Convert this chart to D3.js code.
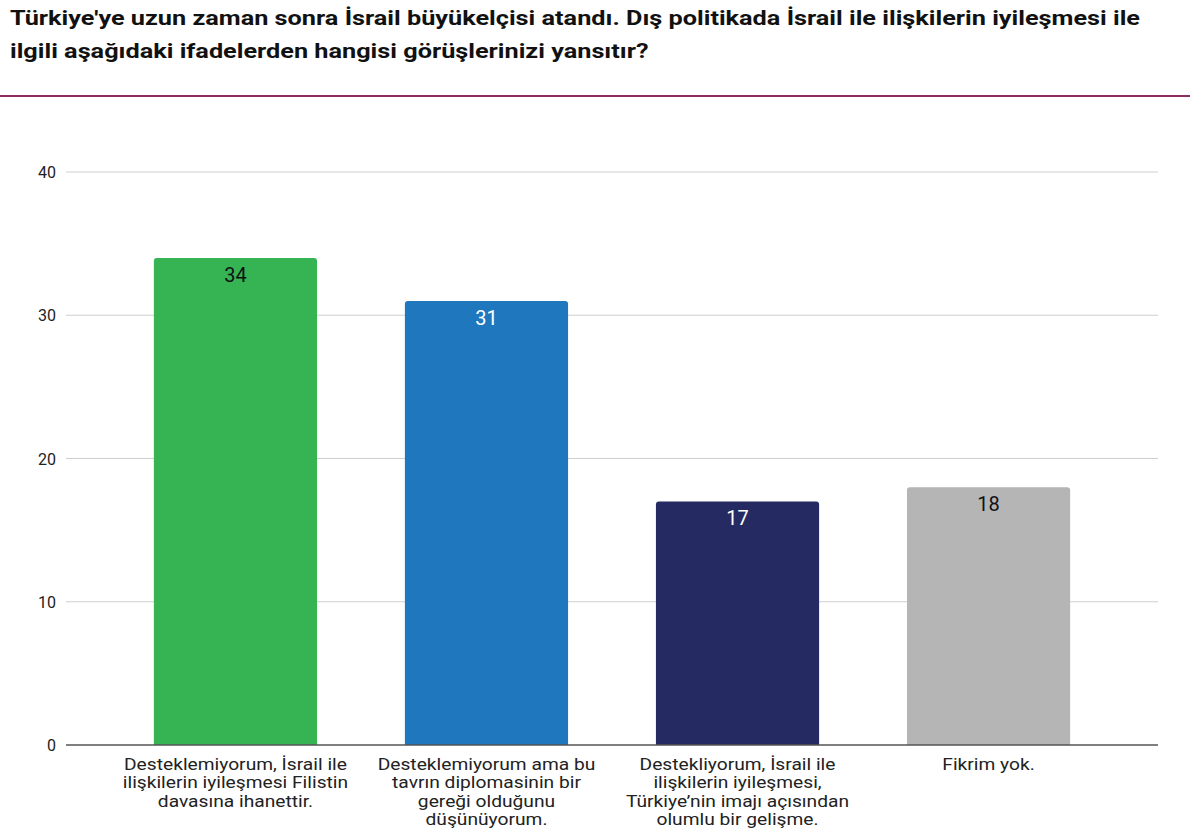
<!DOCTYPE html>
<html>
<head>
<meta charset="utf-8">
<script src="https://cdn.jsdelivr.net/npm/d3@7"></script>
<style>
  body { margin: 0; background: #fff; }
  text { font-family: Roboto, "Noto Sans", sans-serif; }
</style>
</head>
<body>
<div id="Container"></div>
<script>
var baslik = ["Türkiye'ye uzun zaman sonra İsrail büyükelçisi atandı. Dış politikada İsrail ile ilişkilerin iyileşmesi ile",
              "ilgili aşağıdaki ifadelerden hangisi görüşlerinizi yansıtır?"];
var kategori = ["Desteklemiyorum, İsrail ile ilişkilerin iyileşmesi Filistin davasına ihanettir.",
                "Desteklemiyorum ama bu tavrın diplomasinin bir gereği olduğunu düşünüyorum.",
                "Destekliyorum, İsrail ile ilişkilerin iyileşmesi, Türkiye’nin imajı açısından olumlu bir gelişme.",
                "Fikrim yok."];
var nilai = [34, 31, 17, 18];
var tiks = [0, 10, 20, 30, 40];

var warna = d3.scaleOrdinal().domain(kategori)
    .range(["#36b454", "#1f77bd", "#262a62", "#b5b5b5"]);
var warnaTeks = d3.scaleOrdinal().domain(kategori)
    .range(["#111", "#fff", "#fff", "#111"]);

var W = 1200, H = 834;
var canvas = d3.select("#Container").append("svg")
    .attr("width", W).attr("height", H);

// judul
canvas.selectAll("text.judul").data(baslik).enter()
    .append("text")
    .attr("class", "judul")
    .attr("x", 10)
    .attr("y", function (d, i) { return 25 + i * 33; })
    .attr("font-family", "'DejaVu Sans', sans-serif")
    .attr("font-weight", "bold")
    .attr("font-size", 21)
    .attr("fill", "#111")
    .text(function (d) { return d; });
// paksa lebar baris pertama
var t0 = canvas.select("text.judul").node();
var skala = 1130 / t0.getComputedTextLength();
canvas.selectAll("text.judul").attr("textLength", function () { return this.getComputedTextLength() * skala; })
    .attr("lengthAdjust", "spacingAndGlyphs");

canvas.append("line")
    .attr("x1", 0).attr("x2", 1190)
    .attr("y1", 96).attr("y2", 96)
    .attr("stroke", "#8c2e5e").attr("stroke-width", 2);

var x = d3.scaleBand().domain(kategori).range([66, 1158]).padding(0.35);
var y = d3.scaleLinear().domain([0, 40]).range([745, 172]);

// grid
canvas.selectAll("line.grid").data(tiks.slice(1)).enter()
    .append("line")
    .attr("class", "grid")
    .attr("x1", 66).attr("x2", 1158)
    .attr("y1", function (d) { return y(d); })
    .attr("y2", function (d) { return y(d); })
    .attr("stroke", "#cfcfcf").attr("stroke-width", 1);

canvas.selectAll("text.ytick").data(tiks).enter()
    .append("text")
    .attr("class", "ytick")
    .attr("x", 56)
    .attr("y", function (d) { return y(d) + 6; })
    .attr("text-anchor", "end")
    .attr("font-size", 16)
    .attr("fill", "#222")
    .text(function (d) { return d; });

// bar
canvas.selectAll("path.bar").data(nilai).enter()
    .append("path")
    .attr("class", "bar")
    .attr("d", function (d, i) {
        var x0 = x(kategori[i]), w = x.bandwidth(), y0 = y(d), y1 = y(0), r = 3;
        return "M" + x0 + "," + y1 + "V" + (y0 + r) + "Q" + x0 + "," + y0 + " " + (x0 + r) + "," + y0 +
            "H" + (x0 + w - r) + "Q" + (x0 + w) + "," + y0 + " " + (x0 + w) + "," + (y0 + r) + "V" + y1 + "Z";
    })
    .attr("fill", function (d, i) { return warna(kategori[i]); });

canvas.selectAll("text.nilai").data(nilai).enter()
    .append("text")
    .attr("class", "nilai")
    .attr("x", function (d, i) { return x(kategori[i]) + x.bandwidth() / 2; })
    .attr("y", function (d) { return y(d) + 24; })
    .attr("text-anchor", "middle")
    .attr("font-size", 20)
    .attr("fill", function (d, i) { return warnaTeks(kategori[i]); })
    .text(function (d) { return d; });

// sumbu 0
canvas.append("line")
    .attr("x1", 66).attr("x2", 1158)
    .attr("y1", y(0)).attr("y2", y(0))
    .attr("stroke", "#555").attr("stroke-width", 1.5);

// label kategori dengan pembungkus (teks agak melebar seperti aslinya)
var sx = 1.13;
var lbl = canvas.selectAll("text.kat").data(kategori).enter()
    .append("text")
    .attr("class", "kat")
    .attr("text-anchor", "middle")
    .attr("font-size", 17)
    .attr("fill", "#222")
    .attr("transform", function (d) { return "translate(" + (x(d) + x.bandwidth() / 2) + ",0) scale(" + sx + ",1)"; });

lbl.each(function (d) {
    var el = d3.select(this);
    var kata = d.split(" "), baris = [], cur = [];
    var tspan = el.append("tspan").attr("x", 0).attr("y", 770);
    kata.forEach(function (k) {
        cur.push(k);
        tspan.text(cur.join(" "));
        if (tspan.node().getComputedTextLength() * sx > 238 && cur.length > 1) {
            cur.pop();
            baris.push(cur.join(" "));
            cur = [k];
        }
    });
    baris.push(cur.join(" "));
    tspan.remove();
    baris.forEach(function (b, i) {
        el.append("tspan").attr("x", 0).attr("y", 770 + i * 18.5).text(b);
    });
});
</script>
</body>
</html>
